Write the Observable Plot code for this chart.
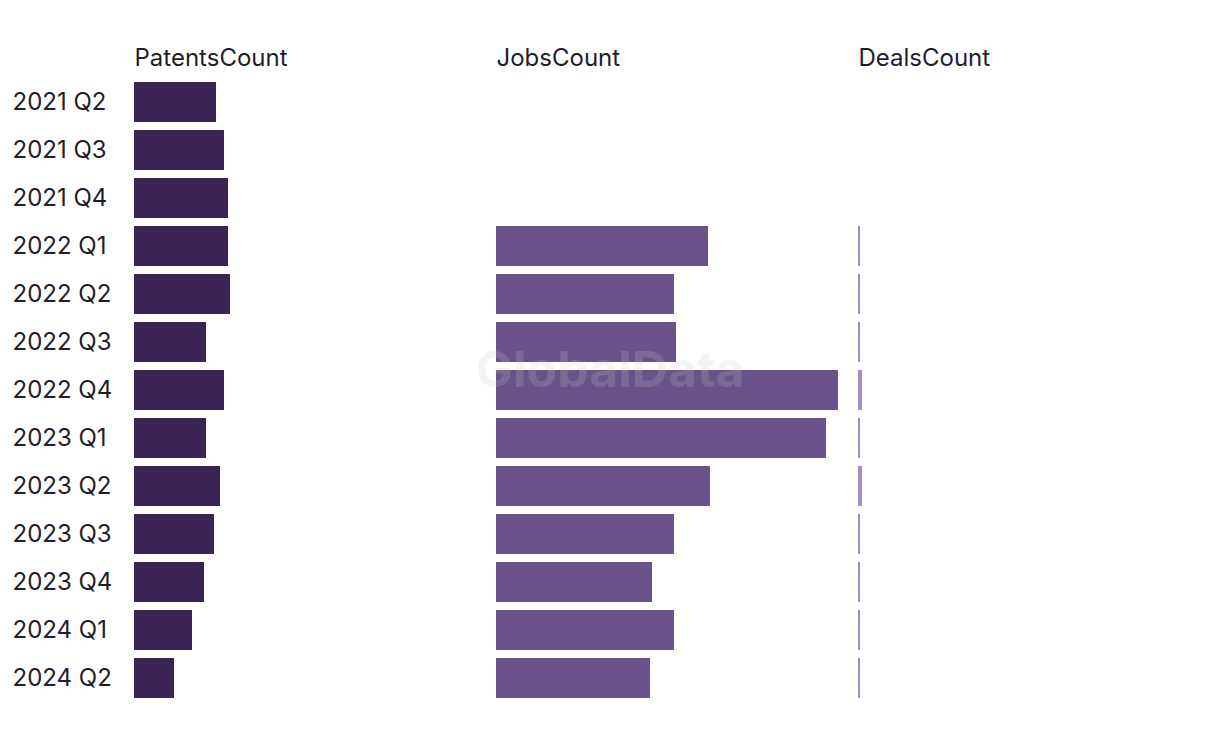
<!DOCTYPE html>
<html>
<head>
<meta charset="utf-8">
<script src="https://cdn.jsdelivr.net/npm/d3@7"></script>
<script src="https://cdn.jsdelivr.net/npm/@observablehq/plot@0.6"></script>
<style>
  html, body { margin: 0; padding: 0; background: #fff; }
  #wrap { position: relative; width: 1220px; height: 740px; font-family: Inter, "Noto Sans", sans-serif; }
  #wm { position: absolute; left: 0; width: 1220px; top: 339px; text-align: center; font-size: 50px; font-weight: 700;
        color: rgba(200,200,200,0.2); pointer-events: none; letter-spacing: 0px; }
</style>
</head>
<body>
<div id="wrap"><div id="chart"></div><div id="wm">GlobalData</div></div>
<script>
const quarters = ["2021 Q2","2021 Q3","2021 Q4","2022 Q1","2022 Q2","2022 Q3","2022 Q4","2023 Q1","2023 Q2","2023 Q3","2023 Q4","2024 Q1","2024 Q2"];
const metrics = ["PatentsCount","JobsCount","DealsCount"];
const patentsCount = [41,45,47,47,48,36,45,36,43,40,35,29,20];
const jobsCount = [null,null,null,106,89,90,171,165,107,89,78,89,77];
const dealsCount = [null,null,null,1,1,1,2,1,2,1,1,1,1];
const colors = ["#392453","#6a538a","#a38dc4"];

const series = [patentsCount, jobsCount, dealsCount];
const rows = [];
metrics.forEach((m, i) => {
  quarters.forEach((q, j) => {
    const v = series[i][j];
    if (v != null) rows.push({metric: m, quarter: q, value: v});
  });
});

const chart = Plot.plot({
  width: 1220,
  height: 740,
  marginLeft: 134,
  marginRight: 20,
  marginTop: 78,
  marginBottom: 38,
  style: {fontFamily: "Inter, 'Noto Sans', sans-serif", fontSize: "24px", color: "#1f1d2b", background: "#fff"},
  fx: {domain: metrics, axis: null, paddingInner: 20/362, paddingOuter: 0, label: null},
  y: {domain: quarters, paddingInner: 1/6, paddingOuter: 1/12, label: null, axis: null},
  x: {axis: null},
  color: {domain: metrics, range: colors},
  marks: [
    Plot.barX(rows, {fx: "metric", y: "quarter", x: "value", fill: "metric"}),
    Plot.text(metrics, {fx: d => d, text: d => d, frameAnchor: "top-left", textAnchor: "start", lineAnchor: "bottom", dy: -13, fill: "#1f1d2b", fontSize: 24}),
    Plot.axisY({tickSize: 0, tickPadding: 0, textAnchor: "start", dx: -122, fontSize: 24, fill: "#1f1d2b", label: null})
  ]
});
document.getElementById("chart").appendChild(chart);
</script>
</body>
</html>
